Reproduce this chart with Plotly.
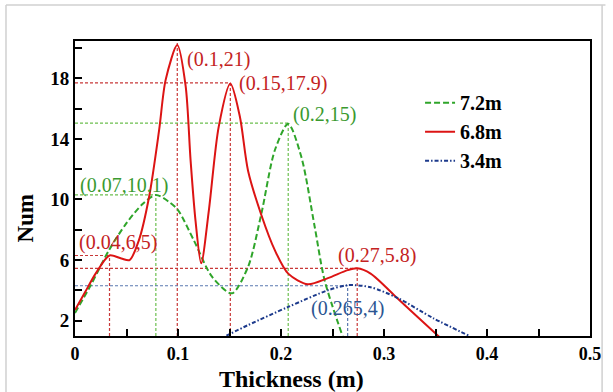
import plotly.graph_objects as go

# ---- data ----
x_72 = [0, 0.015, 0.033, 0.0496, 0.0656, 0.0785, 0.0913, 0.100, 0.1154, 0.133, 0.1523, 0.168, 0.181, 0.194, 0.207, 0.2198, 0.2327, 0.2423, 0.260]
y_72 = [2.5, 4.3, 6.65, 8.4, 9.7, 10.3, 9.84, 9.3, 7.3, 4.9, 3.8, 5.55, 9.08, 13.25, 15.0, 12.8, 8.2, 4.67, 0.93]

x_68 = [0, 0.010, 0.020, 0.0335, 0.045, 0.053, 0.062, 0.072, 0.0817, 0.088, 0.0993, 0.1074, 0.1122, 0.117, 0.1225, 0.130, 0.1395, 0.1508, 0.160, 0.168, 0.181, 0.194, 0.207, 0.226, 0.2455, 0.2647, 0.274, 0.287, 0.313, 0.330, 0.354]
y_68 = [2.7, 3.9, 5.1, 6.3, 6.1, 6.0, 7.3, 10.2, 14.6, 17.9, 20.2, 17.5, 12.6, 8.6, 5.78, 9.3, 14.8, 17.66, 15.5, 11.9, 8.96, 6.65, 5.1, 4.4, 4.8, 5.33, 5.45, 5.1, 3.47, 2.4, 0.9]

x_34 = [0.147, 0.168, 0.207, 0.2455, 0.265, 0.287, 0.313, 0.348, 0.383]
y_34 = [1.0, 1.7, 2.9, 4.0, 4.34, 4.2, 3.5, 2.15, 0.98]

# peak markers (guide lines): x, y, series
peak_x = [0.0335, 0.0993, 0.1508, 0.274, 0.0785, 0.207, 0.2647]
peak_y = [6.3, 20.47, 17.7, 5.45, 10.3, 15.05, 4.3]
peak_series = ["6.8m", "6.8m", "6.8m", "6.8m", "7.2m", "7.2m", "3.4m"]
peak_hline = [True, False, True, True, True, True, True]

# annotation labels: text, x (left edge), y, series
label_text = ["(0.1,21)", "(0.15,17.9)", "(0.2,15)", "(0.07,10.1)", "(0.04,6,5)", "(0.27,5.8)", "(0.265,4)"]
label_x = [0.1068, 0.157, 0.2095, 0.003, 0.0015, 0.2535, 0.227]
label_y = [19.26, 17.66, 15.6, 10.94, 7.14, 6.32, 2.8]
label_series = ["6.8m", "6.8m", "7.2m", "7.2m", "6.8m", "6.8m", "3.4m"]

x_ticks = [0, 0.1, 0.2, 0.3, 0.4, 0.5]
y_ticks = [2, 6, 10, 14, 18]

line_col = {"7.2m": "#2fa52a", "6.8m": "#dc1414", "3.4m": "#1c3a8c"}
guide_col = {"7.2m": "#6cbf4f", "6.8m": "#c83838", "3.4m": "#5a78b0"}
text_col = {"7.2m": "#3a9a30", "6.8m": "#c42222", "3.4m": "#2b5592"}

SERIF = "Liberation Serif"

fig = go.Figure()
fig.add_trace(go.Scatter(x=x_72, y=y_72, mode="lines", name="7.2m",
                         line=dict(color=line_col["7.2m"], width=2, dash="6px,3px", shape="spline", smoothing=0.8)))
fig.add_trace(go.Scatter(x=x_68, y=y_68, mode="lines", name="6.8m",
                         line=dict(color=line_col["6.8m"], width=2, shape="spline", smoothing=0.8)))
fig.add_trace(go.Scatter(x=x_34, y=y_34, mode="lines", name="3.4m",
                         line=dict(color=line_col["3.4m"], width=2, dash="4px,2px,1.5px,2px", shape="spline", smoothing=0.8)))

shapes = []
for px_, py_, s, h in zip(peak_x, peak_y, peak_series, peak_hline):
    shapes.append(dict(type="line", xref="x", yref="y", x0=px_, x1=px_, y0=0.98, y1=py_,
                       line=dict(color=guide_col[s], width=1.2, dash="3px,2px"), layer="below"))
    if h:
        shapes.append(dict(type="line", xref="x", yref="y", x0=0, x1=px_, y0=py_, y1=py_,
                           line=dict(color=guide_col[s], width=1.2, dash="3px,2px"), layer="below"))
# outer light frame of the picture (left, top, right)
frame_col = "#d0d0d0"
shapes.append(dict(type="line", xref="paper", yref="paper", x0=-0.134, x1=-0.134, y0=-0.2, y1=1.122,
                   line=dict(color=frame_col, width=1.5)))
shapes.append(dict(type="line", xref="paper", yref="paper", x0=-0.134, x1=1.03, y0=1.122, y1=1.122,
                   line=dict(color=frame_col, width=1.5)))
shapes.append(dict(type="line", xref="paper", yref="paper", x0=1.0235, x1=1.0235, y0=-0.2, y1=1.122,
                   line=dict(color=frame_col, width=1.5)))

annotations = []
for t, ax_, ay_, s in zip(label_text, label_x, label_y, label_series):
    annotations.append(dict(text=t, x=ax_, y=ay_, xref="x", yref="y", xanchor="left", yanchor="middle",
                            showarrow=False, font=dict(family=SERIF, size=20, color=text_col[s])))
annotations.append(dict(text="Thickness (m)", x=0.42, y=-0.145, xref="paper", yref="paper",
                        xanchor="center", yanchor="middle", showarrow=False,
                        font=dict(family=SERIF, size=24, color="black", weight="bold")))
annotations.append(dict(text="Num", x=-0.098, y=0.4, xref="paper", yref="paper", textangle=-90,
                        xanchor="center", yanchor="middle", showarrow=False,
                        font=dict(family=SERIF, size=23, color="black", weight="bold")))

fig.update_layout(
    width=613, height=392,
    margin=dict(l=75, r=16, t=41, b=56),
    paper_bgcolor="white", plot_bgcolor="white",
    showlegend=True,
    legend=dict(x=0.67, y=0.857, xanchor="left", yanchor="top", bgcolor="rgba(255,255,255,0)",
                font=dict(family=SERIF, size=20, color="black", weight="bold"), tracegroupgap=0),
    shapes=shapes, annotations=annotations,
)
fig.update_xaxes(range=[0, 0.5], tickvals=x_ticks, ticktext=[f"{v:g}" for v in x_ticks],
                 ticks="inside", ticklen=7, tickwidth=2, tickcolor="black",
                 minor=dict(dtick=0.05, tick0=0, ticks="inside", ticklen=7, tickwidth=2, tickcolor="black"),
                 showline=True, linewidth=2, linecolor="black", mirror=True, showgrid=False, zeroline=False,
                 tickfont=dict(family=SERIF, size=18, color="black", weight="bold"))
fig.update_yaxes(range=[0.98, 20.47], tickvals=y_ticks,
                 ticks="inside", ticklen=7, tickwidth=2, tickcolor="black",
                 minor=dict(dtick=2, tick0=0, ticks="inside", ticklen=7, tickwidth=2, tickcolor="black"),
                 showline=True, linewidth=2, linecolor="black", mirror=True, showgrid=False, zeroline=False,
                 tickfont=dict(family=SERIF, size=19, color="black", weight="bold"))

fig.write_html("out.html", config={"displayModeBar": False},
               post_script="document.body.style.margin='0';document.body.style.overflow='hidden';")
